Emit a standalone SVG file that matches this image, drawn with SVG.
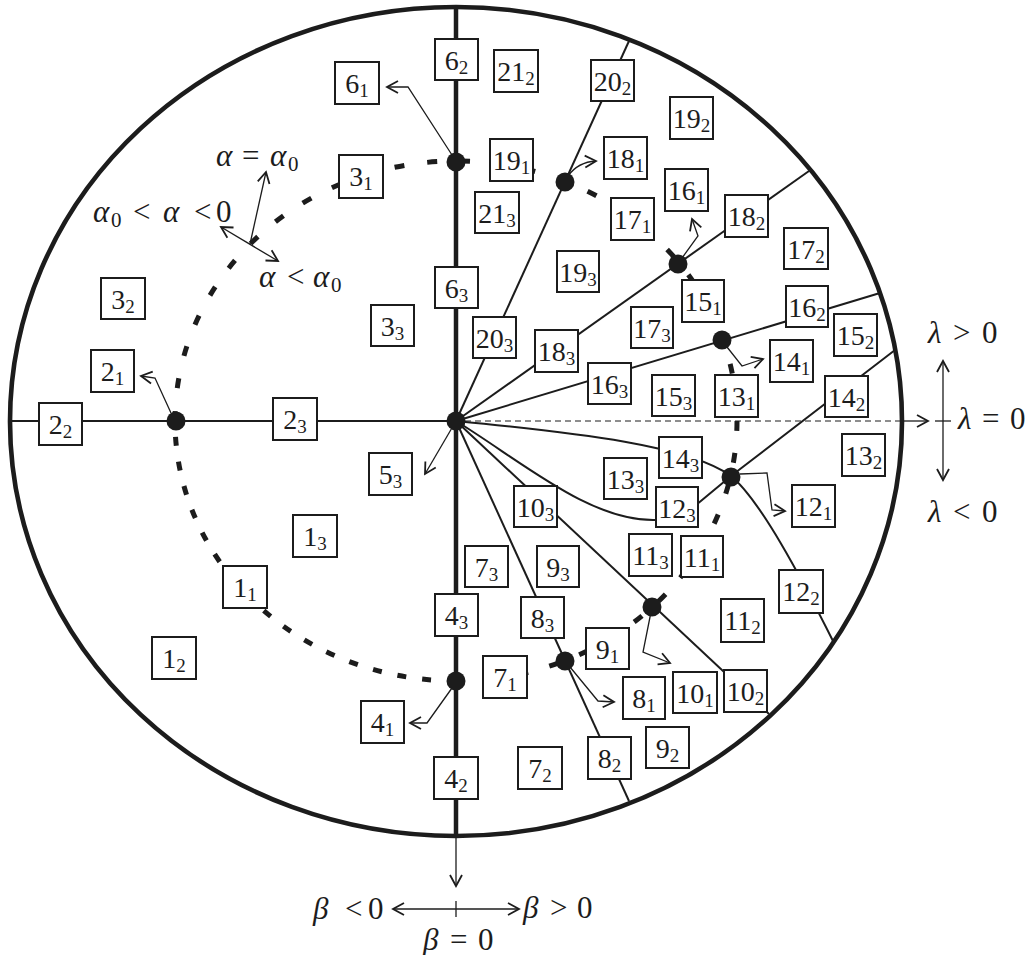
<svg xmlns="http://www.w3.org/2000/svg" width="1033" height="955" viewBox="0 0 1033 955" font-family="'Liberation Serif', 'Times New Roman', serif">
<style>
.bx rect{fill:#fff;stroke:#1c1c1c;stroke-width:2}
.bx text{font-family:'Liberation Serif','Times New Roman',serif;font-size:28px;text-anchor:middle;fill:#1c1c1c}
.s{font-size:19px}
.ln{fill:none;stroke:#1c1c1c;stroke-width:2}
.th{fill:none;stroke:#1c1c1c;stroke-width:1.3}
.ar{marker-end:url(#ah)}
.m{font-family:'Liberation Serif','Times New Roman',serif;font-size:31px;fill:#1c1c1c}
.i{font-style:italic}
.z{font-size:21px}
.dot{fill:#1c1c1c}
.dc{fill:none;stroke:#1c1c1c;stroke-width:5}
</style>
<defs>
<marker id="ah" viewBox="-13 -8 15 16" refX="0" refY="0" markerWidth="15" markerHeight="16" markerUnits="userSpaceOnUse" orient="auto-start-reverse">
<path d="M-11,-6 L0,0 L-11,6" fill="none" stroke="#1c1c1c" stroke-width="1.8"/>
</marker>
</defs>
<g id="frame">
<ellipse cx="456" cy="421.5" rx="446" ry="414.5" fill="none" stroke="#1c1c1c" stroke-width="4.6"/>
</g>
<g id="connectors">
<line class="ln" x1="10" y1="421" x2="456" y2="421"/>
<line class="ln" x1="456" y1="421" x2="629" y2="41"/>
<line class="ln" x1="456" y1="421" x2="809" y2="171"/>
<line class="ln" x1="456" y1="421" x2="880" y2="293"/>
<line class="ln" x1="456" y1="421" x2="629" y2="801"/>
<line class="ln" x1="456" y1="421" x2="769" y2="714"/>
<path class="ln" d="M456,421 C580,433 690,446 731,476"/>
<path class="ln" d="M456,421 C520,460 590,522 656,520 L690,510 L731,476 L895,350"/>
<path class="ln" d="M731,476 C760,500 800,575 834,643"/>
<line x1="456" y1="7" x2="456" y2="836" stroke="#1c1c1c" stroke-width="4.5"/>
<path class="dc" d="M175,421 A281,260 0 0 1 737,421" stroke-dasharray="10 23"/>
<path class="dc" d="M737,421 A281,260 0 0 1 456,681" stroke-dasharray="10 22"/>
<path class="dc" d="M456,681 A281,260 0 0 1 175,421" stroke-dasharray="9 16"/>
<line x1="465" y1="421" x2="903" y2="421" stroke="#1c1c1c" stroke-width="1.2" stroke-dasharray="6 4"/>
<line class="th ar" x1="903" y1="421" x2="928" y2="421"/>
<polyline class="th ar" points="452,155 408,87 387,87"/>
<path class="th ar" d="M568,176 Q578,162 596,161"/>
<polyline class="th ar" points="682,258 698,236 692,219"/>
<polyline class="th ar" points="727,347 742,366 763,359"/>
<polyline class="th ar" points="740,474 767,473 772,510 785,511"/>
<polyline class="th ar" points="651,612 643,652 670,663"/>
<polyline class="th ar" points="570,667 598,701 614,702"/>
<polyline class="th ar" points="452,688 427,723 410,723"/>
<polyline class="th ar" points="171,413 155,378 141,376"/>
<line class="th ar" x1="456" y1="421" x2="425" y2="474"/>
<line class="th ar" x1="221" y1="227" x2="278" y2="261" style="marker-start:url(#ah)"/>
<line class="th ar" x1="250" y1="244" x2="266" y2="172"/>
<line class="th ar" x1="943" y1="361" x2="943" y2="480" style="marker-start:url(#ah)"/>
<line class="th" x1="935" y1="421" x2="951" y2="421"/>
<line class="th ar" x1="456" y1="838" x2="456" y2="886"/>
<line class="th ar" x1="393" y1="909" x2="519" y2="909" style="marker-start:url(#ah)"/>
<line class="th" x1="456" y1="901" x2="456" y2="917"/>
</g>
<g id="n1_1" class="bx"><rect x="223" y="566" width="44" height="42"/><text x="245" y="597">1<tspan class="s" dy="4">1</tspan></text></g>
<g id="n1_2" class="bx"><rect x="152" y="637" width="44" height="42"/><text x="174" y="668">1<tspan class="s" dy="4">2</tspan></text></g>
<g id="n1_3" class="bx"><rect x="293" y="515" width="44" height="42"/><text x="315" y="546">1<tspan class="s" dy="4">3</tspan></text></g>
<g id="n2_1" class="bx"><rect x="91" y="350" width="43" height="42"/><text x="112.5" y="381">2<tspan class="s" dy="4">1</tspan></text></g>
<g id="n2_2" class="bx"><rect x="39" y="403" width="43" height="42"/><text x="60.5" y="434">2<tspan class="s" dy="4">2</tspan></text></g>
<g id="n2_3" class="bx"><rect x="273" y="398" width="44" height="42"/><text x="295" y="429">2<tspan class="s" dy="4">3</tspan></text></g>
<g id="n3_1" class="bx"><rect x="339" y="155" width="44" height="43"/><text x="361" y="186">3<tspan class="s" dy="4">1</tspan></text></g>
<g id="n3_2" class="bx"><rect x="101" y="278" width="44" height="41"/><text x="123" y="309">3<tspan class="s" dy="4">2</tspan></text></g>
<g id="n3_3" class="bx"><rect x="371" y="305" width="43" height="41"/><text x="392.5" y="336">3<tspan class="s" dy="4">3</tspan></text></g>
<g id="n4_1" class="bx"><rect x="361" y="701" width="43" height="42"/><text x="382.5" y="732">4<tspan class="s" dy="4">1</tspan></text></g>
<g id="n4_2" class="bx"><rect x="434" y="757" width="44" height="42"/><text x="456" y="788">4<tspan class="s" dy="4">2</tspan></text></g>
<g id="n4_3" class="bx"><rect x="435" y="594" width="43" height="42"/><text x="456.5" y="625">4<tspan class="s" dy="4">3</tspan></text></g>
<g id="n5_3" class="bx"><rect x="369" y="453" width="43" height="42"/><text x="390.5" y="484">5<tspan class="s" dy="4">3</tspan></text></g>
<g id="n6_1" class="bx"><rect x="335" y="62" width="44" height="42"/><text x="357" y="93">6<tspan class="s" dy="4">1</tspan></text></g>
<g id="n6_2" class="bx"><rect x="435" y="39" width="43" height="41"/><text x="456.5" y="70">6<tspan class="s" dy="4">2</tspan></text></g>
<g id="n6_3" class="bx"><rect x="435" y="267" width="43" height="41"/><text x="456.5" y="298">6<tspan class="s" dy="4">3</tspan></text></g>
<g id="n7_1" class="bx"><rect x="483" y="656" width="44" height="42"/><text x="505" y="687">7<tspan class="s" dy="4">1</tspan></text></g>
<g id="n7_2" class="bx"><rect x="518" y="747" width="44" height="42"/><text x="540" y="778">7<tspan class="s" dy="4">2</tspan></text></g>
<g id="n7_3" class="bx"><rect x="465" y="546" width="43" height="41"/><text x="486.5" y="577">7<tspan class="s" dy="4">3</tspan></text></g>
<g id="n8_1" class="bx"><rect x="623" y="677" width="42" height="42"/><text x="644" y="708">8<tspan class="s" dy="4">1</tspan></text></g>
<g id="n8_2" class="bx"><rect x="588" y="737" width="43" height="42"/><text x="609.5" y="768">8<tspan class="s" dy="4">2</tspan></text></g>
<g id="n8_3" class="bx"><rect x="521" y="597" width="43" height="41"/><text x="542.5" y="628">8<tspan class="s" dy="4">3</tspan></text></g>
<g id="n9_1" class="bx"><rect x="586" y="628" width="43" height="41"/><text x="607.5" y="659">9<tspan class="s" dy="4">1</tspan></text></g>
<g id="n9_2" class="bx"><rect x="646" y="727" width="43" height="41"/><text x="667.5" y="758">9<tspan class="s" dy="4">2</tspan></text></g>
<g id="n9_3" class="bx"><rect x="537" y="546" width="42" height="41"/><text x="558" y="577">9<tspan class="s" dy="4">3</tspan></text></g>
<g id="n10_1" class="bx"><rect x="673" y="672" width="44" height="41"/><text x="695" y="703">10<tspan class="s" dy="4">1</tspan></text></g>
<g id="n10_2" class="bx"><rect x="724" y="670" width="43" height="42"/><text x="745.5" y="701">10<tspan class="s" dy="4">2</tspan></text></g>
<g id="n10_3" class="bx"><rect x="514" y="486" width="43" height="41"/><text x="535.5" y="517">10<tspan class="s" dy="4">3</tspan></text></g>
<g id="n11_1" class="bx"><rect x="681" y="536" width="42" height="41"/><text x="702" y="567">11<tspan class="s" dy="4">1</tspan></text></g>
<g id="n11_2" class="bx"><rect x="721" y="599" width="43" height="43"/><text x="742.5" y="630">11<tspan class="s" dy="4">2</tspan></text></g>
<g id="n11_3" class="bx"><rect x="629" y="534" width="43" height="42"/><text x="650.5" y="565">11<tspan class="s" dy="4">3</tspan></text></g>
<g id="n12_1" class="bx"><rect x="792" y="485" width="43" height="42"/><text x="813.5" y="516">12<tspan class="s" dy="4">1</tspan></text></g>
<g id="n12_2" class="bx"><rect x="779" y="570" width="44" height="43"/><text x="801" y="601">12<tspan class="s" dy="4">2</tspan></text></g>
<g id="n12_3" class="bx"><rect x="656" y="487" width="42" height="40"/><text x="677" y="518">12<tspan class="s" dy="4">3</tspan></text></g>
<g id="n13_1" class="bx"><rect x="715" y="375" width="43" height="42"/><text x="736.5" y="406">13<tspan class="s" dy="4">1</tspan></text></g>
<g id="n13_2" class="bx"><rect x="842" y="434" width="43" height="42"/><text x="863.5" y="465">13<tspan class="s" dy="4">2</tspan></text></g>
<g id="n13_3" class="bx"><rect x="604" y="458" width="43" height="41"/><text x="625.5" y="489">13<tspan class="s" dy="4">3</tspan></text></g>
<g id="n14_1" class="bx"><rect x="770" y="340" width="43" height="42"/><text x="791.5" y="371">14<tspan class="s" dy="4">1</tspan></text></g>
<g id="n14_2" class="bx"><rect x="825" y="376" width="43" height="41"/><text x="846.5" y="407">14<tspan class="s" dy="4">2</tspan></text></g>
<g id="n14_3" class="bx"><rect x="659" y="437" width="43" height="41"/><text x="680.5" y="468">14<tspan class="s" dy="4">3</tspan></text></g>
<g id="n15_1" class="bx"><rect x="682" y="280" width="42" height="42"/><text x="703" y="311">15<tspan class="s" dy="4">1</tspan></text></g>
<g id="n15_2" class="bx"><rect x="834" y="314" width="43" height="42"/><text x="855.5" y="345">15<tspan class="s" dy="4">2</tspan></text></g>
<g id="n15_3" class="bx"><rect x="652" y="375" width="43" height="41"/><text x="673.5" y="406">15<tspan class="s" dy="4">3</tspan></text></g>
<g id="n16_1" class="bx"><rect x="665" y="169" width="43" height="42"/><text x="686.5" y="200">16<tspan class="s" dy="4">1</tspan></text></g>
<g id="n16_2" class="bx"><rect x="786" y="286" width="42" height="41"/><text x="807" y="317">16<tspan class="s" dy="4">2</tspan></text></g>
<g id="n16_3" class="bx"><rect x="588" y="363" width="43" height="41"/><text x="609.5" y="394">16<tspan class="s" dy="4">3</tspan></text></g>
<g id="n17_1" class="bx"><rect x="611" y="198" width="43" height="42"/><text x="632.5" y="229">17<tspan class="s" dy="4">1</tspan></text></g>
<g id="n17_2" class="bx"><rect x="784" y="228" width="44" height="41"/><text x="806" y="259">17<tspan class="s" dy="4">2</tspan></text></g>
<g id="n17_3" class="bx"><rect x="631" y="307" width="42" height="41"/><text x="652" y="338">17<tspan class="s" dy="4">3</tspan></text></g>
<g id="n18_1" class="bx"><rect x="604" y="137" width="43" height="42"/><text x="625.5" y="168">18<tspan class="s" dy="4">1</tspan></text></g>
<g id="n18_2" class="bx"><rect x="725" y="195" width="43" height="42"/><text x="746.5" y="226">18<tspan class="s" dy="4">2</tspan></text></g>
<g id="n18_3" class="bx"><rect x="535" y="330" width="43" height="42"/><text x="556.5" y="361">18<tspan class="s" dy="4">3</tspan></text></g>
<g id="n19_1" class="bx"><rect x="490" y="139" width="43" height="42"/><text x="511.5" y="170">19<tspan class="s" dy="4">1</tspan></text></g>
<g id="n19_2" class="bx"><rect x="670" y="97" width="43" height="42"/><text x="691.5" y="128">19<tspan class="s" dy="4">2</tspan></text></g>
<g id="n19_3" class="bx"><rect x="557" y="251" width="42" height="41"/><text x="578" y="282">19<tspan class="s" dy="4">3</tspan></text></g>
<g id="n20_2" class="bx"><rect x="591" y="60" width="43" height="41"/><text x="612.5" y="91">20<tspan class="s" dy="4">2</tspan></text></g>
<g id="n20_3" class="bx"><rect x="473" y="317" width="43" height="41"/><text x="494.5" y="348">20<tspan class="s" dy="4">3</tspan></text></g>
<g id="n21_2" class="bx"><rect x="494" y="50" width="44" height="42"/><text x="516" y="81">21<tspan class="s" dy="4">2</tspan></text></g>
<g id="n21_3" class="bx"><rect x="475" y="192" width="44" height="41"/><text x="497" y="223">21<tspan class="s" dy="4">3</tspan></text></g>
<g id="dots">
<circle class="dot" cx="456" cy="421" r="9.5"/>
<circle class="dot" cx="456" cy="162" r="9.5"/>
<circle class="dot" cx="565" cy="182" r="9.5"/>
<circle class="dot" cx="678" cy="264" r="9.5"/>
<circle class="dot" cx="722" cy="340" r="9.5"/>
<circle class="dot" cx="731" cy="477" r="9.5"/>
<circle class="dot" cx="652" cy="607" r="9.5"/>
<circle class="dot" cx="565" cy="661" r="9.5"/>
<circle class="dot" cx="456" cy="681" r="9.5"/>
<circle class="dot" cx="176" cy="421" r="9.5"/>
</g>
<g id="labels">
<text class="m"><tspan class="i" x="216" y="166">α</tspan><tspan x="242" y="166">=</tspan><tspan class="i" x="270" y="166">α</tspan><tspan class="z" x="288" y="171">0</tspan></text>
<text class="m"><tspan class="i" x="93" y="222">α</tspan><tspan class="z" x="111" y="227">0</tspan><tspan x="133" y="222">&lt;</tspan><tspan class="i" x="163" y="222">α</tspan><tspan x="194" y="222">&lt;</tspan><tspan x="216" y="222">0</tspan></text>
<text class="m"><tspan class="i" x="259" y="287">α</tspan><tspan x="287" y="287">&lt;</tspan><tspan class="i" x="313" y="287">α</tspan><tspan class="z" x="331" y="292">0</tspan></text>
<text class="m"><tspan class="i" x="928" y="343">λ</tspan><tspan x="953" y="343">&gt;</tspan><tspan x="982" y="343">0</tspan></text>
<text class="m"><tspan class="i" x="958" y="429">λ</tspan><tspan x="982" y="429">=</tspan><tspan x="1010" y="429">0</tspan></text>
<text class="m"><tspan class="i" x="928" y="522">λ</tspan><tspan x="953" y="522">&lt;</tspan><tspan x="982" y="522">0</tspan></text>
<text class="m"><tspan class="i" x="313" y="919">β</tspan><tspan x="345" y="919">&lt;</tspan><tspan x="368" y="919">0</tspan></text>
<text class="m"><tspan class="i" x="523" y="918">β</tspan><tspan x="550" y="918">&gt;</tspan><tspan x="577" y="918">0</tspan></text>
<text class="m"><tspan class="i" x="423" y="950">β</tspan><tspan x="450" y="950">=</tspan><tspan x="478" y="950">0</tspan></text>
</g>
</svg>
